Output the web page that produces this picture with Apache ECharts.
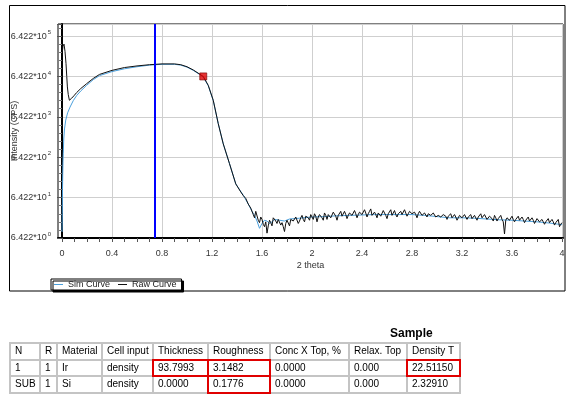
<!DOCTYPE html>
<html>
<head>
<meta charset="utf-8">
<script src="https://cdn.jsdelivr.net/npm/echarts@6/dist/echarts.min.js"></script>
<style>
  html, body { margin: 0; padding: 0; background: #fff; }
  #chart { position: absolute; left: 0; top: 0; width: 570px; height: 397px; }
  #tbl { position: absolute; left: 0; top: 0; width: 570px; height: 397px; pointer-events: none;
         font-family: "Liberation Sans", Arial, sans-serif; font-size: 10px; color: #000; }
  .cell { position: absolute; background: #fff; box-sizing: border-box; padding-left: 4px;
          white-space: nowrap; overflow: hidden; }
  .red { position: absolute; box-sizing: border-box; border: 2px solid #e00000; }
  .title { position: absolute; font-weight: bold; font-size: 12px; }
</style>
</head>
<body>
<div id="chart"></div>
<div id="tbl"></div>
<script>
// ---------- DATA ----------
// x: 2 theta (deg); y: decades of intensity above 6.422 CPS, i.e. log10(I / 6.422)
const xMajorTicks = [0, 0.4, 0.8, 1.2, 1.6, 2, 2.4, 2.8, 3.2, 3.6, 4];
const xAllTicks = [0, 0.1, 0.2, 0.3, 0.4, 0.5, 0.6, 0.7, 0.8, 0.9, 1, 1.1, 1.2, 1.3, 1.4, 1.5, 1.6, 1.7, 1.8, 1.9, 2,
  2.1, 2.2, 2.3, 2.4, 2.5, 2.6, 2.7, 2.8, 2.9, 3, 3.1, 3.2, 3.3, 3.4, 3.5, 3.6, 3.7, 3.8, 3.9, 4];
const yDecades = [0, 1, 2, 3, 4, 5];
const yLabelBase = '6.422*10';

const simCurve = [
  [0.000, 0.15], [0.002, 0.60], [0.004, 1.20], [0.006, 1.60], [0.008, 1.90], [0.010, 2.10], [0.014, 2.45],
  [0.020, 2.70], [0.030, 2.92], [0.045, 3.10], [0.064, 3.24], [0.090, 3.40], [0.118, 3.53], [0.150, 3.64],
  [0.197, 3.78], [0.25, 3.92], [0.30, 4.02], [0.40, 4.12], [0.50, 4.19], [0.60, 4.24], [0.70, 4.28],
  [0.80, 4.30], [0.90, 4.30], [0.95, 4.28], [1.00, 4.23], [1.05, 4.15], [1.10, 4.05], [1.13, 3.98],
  [1.17, 3.77], [1.21, 3.40], [1.25, 2.83], [1.29, 2.33], [1.34, 1.84], [1.39, 1.34], [1.45, 1.06],
  [1.49, 0.84], [1.52, 0.66], [1.54, 0.56], [1.56, 0.42], [1.58, 0.24], [1.60, 0.36], [1.62, 0.44],
  [1.64, 0.42], [1.66, 0.36], [1.68, 0.40], [1.70, 0.46], [1.74, 0.44], [1.78, 0.42], [1.82, 0.47],
  [1.86, 0.48], [1.90, 0.49], [2.00, 0.52], [2.10, 0.53], [2.20, 0.55], [2.30, 0.56], [2.40, 0.57],
  [2.50, 0.58], [2.60, 0.58], [2.70, 0.58], [2.80, 0.58], [2.90, 0.56], [3.00, 0.53], [3.10, 0.50],
  [3.20, 0.50], [3.30, 0.49], [3.40, 0.47], [3.50, 0.45], [3.60, 0.44], [3.70, 0.42], [3.80, 0.40],
  [3.90, 0.37], [4.00, 0.33]
];

const rawCurve = [
  [0.003, 4.62], [0.008, 4.75], [0.016, 4.80], [0.024, 4.62], [0.032, 4.32], [0.038, 4.00], [0.043, 3.74],
  [0.050, 3.55], [0.059, 3.41], [0.068, 3.43], [0.077, 3.46], [0.095, 3.52], [0.117, 3.60], [0.150, 3.70],
  [0.197, 3.82], [0.25, 3.95], [0.30, 4.05], [0.40, 4.15], [0.50, 4.22], [0.60, 4.26], [0.70, 4.29],
  [0.80, 4.31], [0.90, 4.31], [0.95, 4.29], [1.00, 4.24], [1.05, 4.16], [1.10, 4.06], [1.13, 4.00],
  [1.17, 3.78], [1.21, 3.41], [1.25, 2.83], [1.29, 2.33], [1.34, 1.84], [1.39, 1.34], [1.43, 1.14],
  [1.45, 1.05], [1.47, 0.98], [1.49, 0.84],
  [1.50, 0.80], [1.51, 0.74], [1.52, 0.70], [1.53, 0.58], [1.54, 0.50], [1.55, 0.66], [1.56, 0.62],
  [1.57, 0.44], [1.58, 0.38], [1.59, 0.52], [1.60, 0.46], [1.61, 0.34], [1.62, 0.28], [1.63, 0.40],
  [1.64, 0.12], [1.65, 0.30], [1.66, 0.44], [1.67, 0.38], [1.68, 0.30], [1.69, 0.50], [1.70, 0.48],
  [1.71, 0.42], [1.72, 0.36], [1.73, 0.46], [1.74, 0.50], [1.75, 0.32], [1.76, 0.38], [1.77, 0.28],
  [1.78, 0.16], [1.79, 0.36], [1.80, 0.44], [1.81, 0.40], [1.82, 0.30], [1.83, 0.46], [1.84, 0.50],
  [1.85, 0.42], [1.86, 0.38], [1.87, 0.52], [1.88, 0.54], [1.89, 0.36], [1.90, 0.42], [1.91, 0.50],
  [1.92, 0.56], [1.93, 0.46], [1.94, 0.40], [1.95, 0.54], [1.96, 0.58], [1.97, 0.50], [1.98, 0.44],
  [1.99, 0.58], [2.00, 0.52], [2.01, 0.46], [2.02, 0.60], [2.03, 0.54], [2.04, 0.40], [2.05, 0.52],
  [2.06, 0.58], [2.07, 0.62], [2.08, 0.50], [2.09, 0.44], [2.10, 0.62], [2.11, 0.56], [2.12, 0.46],
  [2.13, 0.58], [2.14, 0.60], [2.15, 0.50], [2.16, 0.52], [2.17, 0.64], [2.18, 0.64], [2.19, 0.54],
  [2.20, 0.44], [2.21, 0.56], [2.22, 0.60], [2.23, 0.66], [2.24, 0.54], [2.25, 0.50], [2.26, 0.66],
  [2.27, 0.58], [2.28, 0.48], [2.29, 0.56], [2.30, 0.62], [2.31, 0.66], [2.32, 0.56], [2.33, 0.52],
  [2.34, 0.68], [2.35, 0.60], [2.36, 0.50], [2.37, 0.58], [2.38, 0.64], [2.39, 0.68], [2.40, 0.58],
  [2.41, 0.54], [2.42, 0.70], [2.43, 0.62], [2.44, 0.52], [2.45, 0.60], [2.46, 0.66], [2.47, 0.72],
  [2.48, 0.56], [2.49, 0.60], [2.50, 0.64], [2.51, 0.58], [2.52, 0.50], [2.53, 0.62], [2.54, 0.62],
  [2.55, 0.54], [2.56, 0.58], [2.57, 0.68], [2.58, 0.66], [2.59, 0.56], [2.60, 0.48], [2.61, 0.60],
  [2.62, 0.64], [2.63, 0.70], [2.64, 0.56], [2.65, 0.62], [2.66, 0.68], [2.67, 0.58], [2.68, 0.52],
  [2.69, 0.60], [2.70, 0.62], [2.71, 0.66], [2.72, 0.58], [2.73, 0.54], [2.74, 0.70], [2.75, 0.62],
  [2.76, 0.54], [2.77, 0.60], [2.78, 0.66], [2.79, 0.70], [2.80, 0.60], [2.81, 0.56], [2.82, 0.64],
  [2.83, 0.58], [2.84, 0.50], [2.85, 0.60], [2.86, 0.66], [2.87, 0.62], [2.88, 0.56], [2.89, 0.52],
  [2.90, 0.62], [2.91, 0.58], [2.92, 0.52], [2.93, 0.60], [2.94, 0.64], [2.95, 0.56], [2.96, 0.54],
  [2.97, 0.62], [2.98, 0.60], [2.99, 0.52], [3.00, 0.48], [3.01, 0.56], [3.02, 0.58], [3.03, 0.52],
  [3.04, 0.50], [3.05, 0.58], [3.06, 0.60], [3.07, 0.54], [3.08, 0.46], [3.09, 0.54], [3.10, 0.56],
  [3.11, 0.60], [3.12, 0.50], [3.13, 0.46], [3.14, 0.58], [3.15, 0.52], [3.16, 0.44], [3.17, 0.50],
  [3.18, 0.56], [3.19, 0.58], [3.20, 0.50], [3.21, 0.46], [3.22, 0.58], [3.23, 0.54], [3.24, 0.46],
  [3.25, 0.52], [3.26, 0.54], [3.27, 0.58], [3.28, 0.48], [3.29, 0.44], [3.30, 0.56], [3.31, 0.50],
  [3.32, 0.44], [3.33, 0.52], [3.34, 0.56], [3.35, 0.60], [3.36, 0.50], [3.37, 0.46], [3.38, 0.58],
  [3.39, 0.52], [3.40, 0.46], [3.41, 0.50], [3.42, 0.54], [3.43, 0.58], [3.44, 0.48], [3.45, 0.42],
  [3.46, 0.56], [3.47, 0.50], [3.48, 0.42], [3.49, 0.48], [3.50, 0.52], [3.51, 0.56], [3.52, 0.46],
  [3.53, 0.40], [3.54, 0.10], [3.55, 0.44], [3.56, 0.50], [3.57, 0.54], [3.58, 0.44], [3.59, 0.48],
  [3.60, 0.54], [3.61, 0.46], [3.62, 0.40], [3.63, 0.46], [3.64, 0.50], [3.65, 0.54], [3.66, 0.44],
  [3.67, 0.40], [3.68, 0.52], [3.69, 0.46], [3.70, 0.38], [3.71, 0.44], [3.72, 0.48], [3.73, 0.52],
  [3.74, 0.42], [3.75, 0.38], [3.76, 0.50], [3.77, 0.44], [3.78, 0.36], [3.79, 0.42], [3.80, 0.48],
  [3.81, 0.50], [3.82, 0.40], [3.83, 0.36], [3.84, 0.46], [3.85, 0.40], [3.86, 0.34], [3.87, 0.40],
  [3.88, 0.44], [3.89, 0.48], [3.90, 0.38], [3.91, 0.34], [3.92, 0.46], [3.93, 0.40], [3.94, 0.32],
  [3.95, 0.38], [3.96, 0.42], [3.97, 0.46], [3.98, 0.28], [3.99, 0.34], [4.00, 0.38]
];

const cursorX = 0.744;          // blue vertical cursor (2 theta)
const criticalPoint = [[1.13, 4.00]]; // red square marker

const tableTitle = 'Sample';
const tableHeaders = ['N', 'R', 'Material', 'Cell input', 'Thickness', 'Roughness', 'Conc X Top, %', 'Relax. Top', 'Density T'];
const tableRow1 = ['1', '1', 'Ir', 'density', '93.7993', '3.1482', '0.0000', '0.000', '22.51150'];
const tableRow2 = ['SUB', '1', 'Si', 'density', '0.0000', '0.1776', '0.0000', '0.000', '2.32910'];
const highlightedCells = [[1, 4], [1, 5], [2, 5], [1, 8]]; // [row, col], row 0 = header

// ---------- LAYOUT ----------
const colEdges = [10, 40, 57, 102, 153, 208, 270, 349, 407, 460];
const rowEdges = [343, 359.5, 376, 392.5];

const chart = echarts.init(document.getElementById('chart'), null, { renderer: 'canvas' });
const SIM_COLOR = '#4a9fdc';
const labelColor = '#333';

chart.setOption({
  animation: false,
  backgroundColor: '#fff',
  textStyle: { fontFamily: '"Liberation Sans", Arial, sans-serif' },
  graphic: [{
    type: 'rect', z: -10, silent: true,
    shape: { x: 9.5, y: 5.5, width: 555.5, height: 285.5 },
    style: { fill: 'none', stroke: '#000', lineWidth: 1 }
  }],
  grid: {
    left: 58, right: 7, top: 24, bottom: 159, show: true, borderColor: '#000', borderWidth: 1,
    backgroundColor: '#fff', containLabel: false, outerBoundsMode: 'none'
  },
  legend: {
    left: 51, top: 279, orient: 'horizontal',
    padding: [1, 5, 1, 3], itemGap: 8, itemWidth: 9, itemHeight: 1, itemTextGap: 4,
    backgroundColor: '#fff', borderColor: '#000', borderWidth: 1,
    shadowColor: '#000', shadowOffsetX: 2, shadowOffsetY: 2, shadowBlur: 0,
    textStyle: { fontSize: 9, color: '#222', fontFamily: '"Liberation Sans", Arial, sans-serif' },
    data: [{ name: 'Sim Curve', icon: 'rect' }, { name: 'Raw Curve', icon: 'rect' }]
  },
  xAxis: [{
    type: 'value', min: -0.032, max: 4.008,
    name: '2 theta', nameLocation: 'middle', nameGap: 23, nameMoveOverlap: false,
    nameTextStyle: { fontSize: 9, color: labelColor },
    axisLine: { show: true, onZero: false, lineStyle: { color: '#000', width: 2 } },
    axisTick: { show: true, customValues: xAllTicks, length: 4, lineStyle: { color: '#555' } },
    axisLabel: { customValues: xMajorTicks, fontSize: 9, color: labelColor, margin: 11 },
    splitLine: { show: false }
  }, {
    type: 'value', min: -0.032, max: 4.008, position: 'bottom',
    axisLine: { show: false }, axisTick: { show: false, customValues: xMajorTicks },
    axisLabel: { show: false, customValues: xMajorTicks },
    splitLine: { show: true, lineStyle: { color: '#cfcfcf', width: 1 } }
  }],
  yAxis: {
    type: 'value', min: 0, max: 5.298, interval: 1,
    name: 'Intensity (CPS)', nameLocation: 'middle', nameGap: 39, nameMoveOverlap: false,
    nameTextStyle: { fontSize: 9, color: labelColor },
    axisLine: { show: true, lineStyle: { color: '#000', width: 2 } },
    axisTick: { show: true, length: 5, lineStyle: { color: '#555' } },
    minorTick: { show: true, splitNumber: 5, length: 3, lineStyle: { color: '#777' } },
    axisLabel: {
      fontSize: 9, color: labelColor, margin: 7,
      formatter: function (v) {
        const k = Math.round(v);
        if (Math.abs(v - k) > 1e-6 || yDecades.indexOf(k) < 0) return '';
        return yLabelBase + '{e|' + k + '}';
      },
      rich: { e: { fontSize: 6, color: labelColor, padding: [0, 0, 7, 1] } }
    },
    splitLine: { show: true, lineStyle: { color: '#cfcfcf', width: 1 } }
  },
  series: [{
    name: 'Sim Curve', type: 'line', data: simCurve, showSymbol: false, symbol: 'none',
    lineStyle: { color: SIM_COLOR, width: 1 }, itemStyle: { color: SIM_COLOR }, z: 3
  }, {
    name: 'Raw Curve', type: 'line', data: rawCurve, showSymbol: false, symbol: 'none',
    lineStyle: { color: '#111', width: 1 }, itemStyle: { color: '#111' }, z: 4,
    markLine: {
      silent: true, symbol: 'none', label: { show: false },
      lineStyle: { color: '#0000ff', width: 2, type: 'solid' },
      data: [{ xAxis: cursorX }]
    }
  }, {
    name: 'marker', type: 'scatter', data: criticalPoint, symbol: 'rect', symbolSize: 7, z: 6,
    itemStyle: { color: '#e00000', borderColor: '#700', borderWidth: 0.8 }
  }]
});

// ---------- TABLE ----------
const tbl = document.getElementById('tbl');
const title = document.createElement('div');
title.className = 'title';
title.textContent = tableTitle;
title.style.left = '390px';
title.style.top = '326px';
tbl.appendChild(title);

const bg = document.createElement('div');
bg.style.position = 'absolute';
bg.style.left = (colEdges[0] - 1) + 'px';
bg.style.top = (rowEdges[0] - 1) + 'px';
bg.style.width = (colEdges[colEdges.length - 1] - colEdges[0] + 2) + 'px';
bg.style.height = (rowEdges[rowEdges.length - 1] - rowEdges[0] + 2) + 'px';
bg.style.background = '#c4c4c4';
tbl.appendChild(bg);

const allRows = [tableHeaders, tableRow1, tableRow2];
allRows.forEach(function (row, r) {
  row.forEach(function (txt, c) {
    const d = document.createElement('div');
    d.className = 'cell';
    const x0 = colEdges[c] + 1, x1 = colEdges[c + 1] - 1;
    const y0 = rowEdges[r] + 1, y1 = rowEdges[r + 1] - 1;
    d.style.left = x0 + 'px';
    d.style.top = y0 + 'px';
    d.style.width = (x1 - x0) + 'px';
    d.style.height = (y1 - y0) + 'px';
    d.style.lineHeight = (y1 - y0) + 'px';
    d.textContent = txt;
    tbl.appendChild(d);
  });
});
highlightedCells.forEach(function (rc) {
  const r = rc[0], c = rc[1];
  const d = document.createElement('div');
  d.className = 'red';
  d.style.left = (colEdges[c] - 1) + 'px';
  d.style.top = (rowEdges[r] - 1) + 'px';
  d.style.width = (colEdges[c + 1] - colEdges[c] + 2) + 'px';
  d.style.height = (rowEdges[r + 1] - rowEdges[r] + 2) + 'px';
  tbl.appendChild(d);
});
</script>
</body>
</html>
